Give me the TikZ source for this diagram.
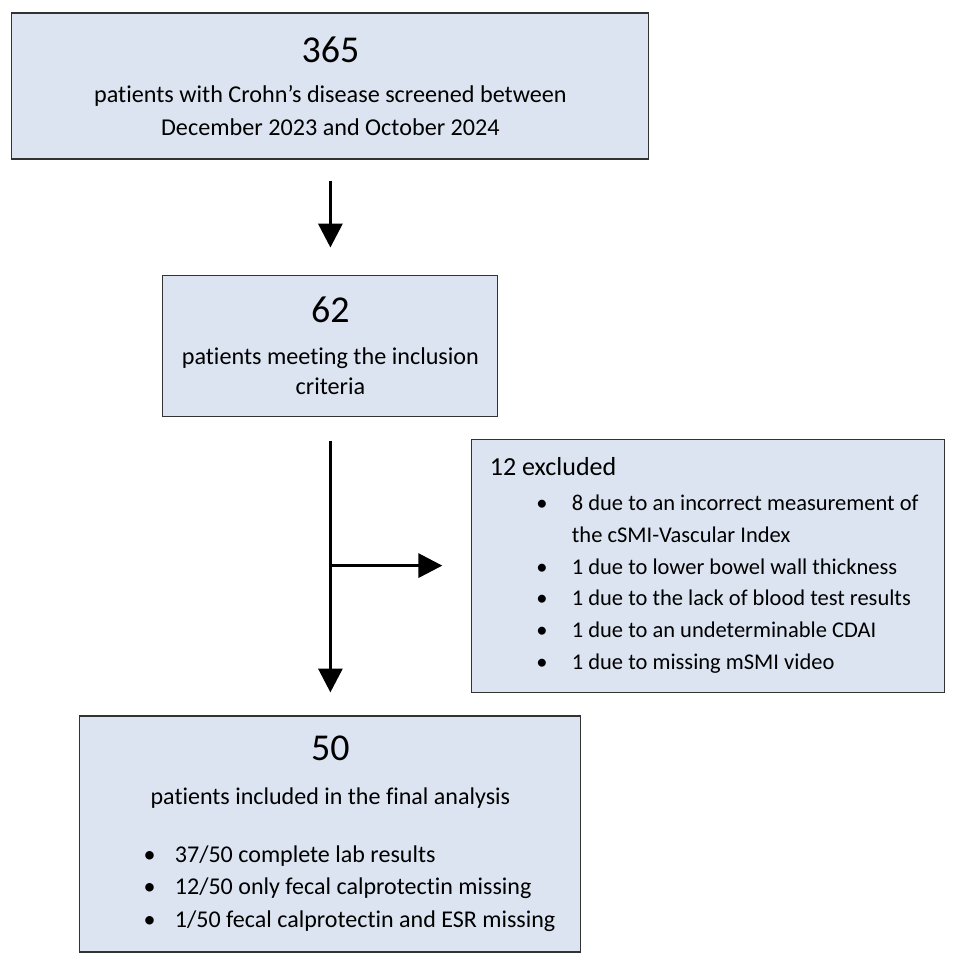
\documentclass[tikz,border=0pt]{standalone}
\usepackage{fontspec}
\setmainfont{Carlito}[Ligatures={TeX,NoCommon}]
\usetikzlibrary{arrows.meta,positioning}
\definecolor{boxfill}{RGB}{219,228,240}
\definecolor{boxline}{RGB}{50,50,50}

\begin{document}
\begin{tikzpicture}[
        box/.style={draw=boxline, fill=boxfill, line width=0.8pt, inner sep=0pt, align=center,
            font=\fontsize{17.2}{23.5}\selectfont},
        flow/.style={line width=2.4pt, -{Triangle[length=17pt,width=17pt]}}
    ]
        \useasboundingbox (0,0) rectangle (23.9,-24.1);

        % Screening
        \node[box, minimum width=15.925cm, minimum height=3.65cm] (screen) at (8.26,-2.15)
            {{\fontsize{27}{30}\selectfont 365}\\[0.17cm]
            patients with Crohn’s disease screened between\\
            December 2023 and October 2024};

        % Inclusion
        \node[box, minimum width=8.375cm, minimum height=3.525cm,
            font=\fontsize{17.2}{21.3}\selectfont] (incl) at (8.26,-8.64)
            {{\fontsize{27}{30}\selectfont 62}\\[0.3cm]
            patients meeting the inclusion\\
            criteria};

        % Exclusions
        \node[box, minimum width=11.825cm, minimum height=6.325cm, text width=11.825cm, align=flush left,
            font=\fontsize{16}{22.6}\selectfont] (excl) at (17.71,-14.14)
            {\hspace*{0.45cm}{\fontsize{18.5}{22.6}\selectfont 12 excluded}\\[0.07cm]
            \hspace*{1.61cm}\makebox[0.89cm][l]{•}8 due to an incorrect measurement of\\
            \hspace*{2.5cm}the cSMI-Vascular Index\\
            \hspace*{1.61cm}\makebox[0.89cm][l]{•}1 due to lower bowel wall thickness\\
            \hspace*{1.61cm}\makebox[0.89cm][l]{•}1 due to the lack of blood test results\\
            \hspace*{1.61cm}\makebox[0.89cm][l]{•}1 due to an undeterminable CDAI\\
            \hspace*{1.61cm}\makebox[0.89cm][l]{•}1 due to missing mSMI video};

        % Final analysis
        \node[box, minimum width=12.525cm, minimum height=5.9cm, text width=12.525cm, align=flush left,
            font=\fontsize{17.1}{23.3}\selectfont] (final) at (8.26,-20.85)
            {\makebox[\hsize]{\fontsize{27}{30}\selectfont 50}\\[0.26cm]
            \makebox[\hsize]{patients included in the final analysis}\\[0.63cm]
            \hspace*{1.59cm}\makebox[0.785cm][l]{•}37/50 complete lab results\\
            \hspace*{1.59cm}\makebox[0.785cm][l]{•}12/50 only fecal calprotectin missing\\
            \hspace*{1.59cm}\makebox[0.785cm][l]{•}1/50 fecal calprotectin and ESR missing};

        % Connections
        \draw[flow, shorten <=0.525cm, shorten >=0.675cm] (screen.south) -- (incl.north);
        \draw[flow, shorten <=0.6cm, shorten >=0.575cm] (incl.south) -- (final.north);

        % Branch to exclusions
        \coordinate (split) at (incl.south |- excl.west);
        \draw[flow, shorten >=0.725cm] (split) -- (excl.west);
    \end{tikzpicture}
\end{document}
